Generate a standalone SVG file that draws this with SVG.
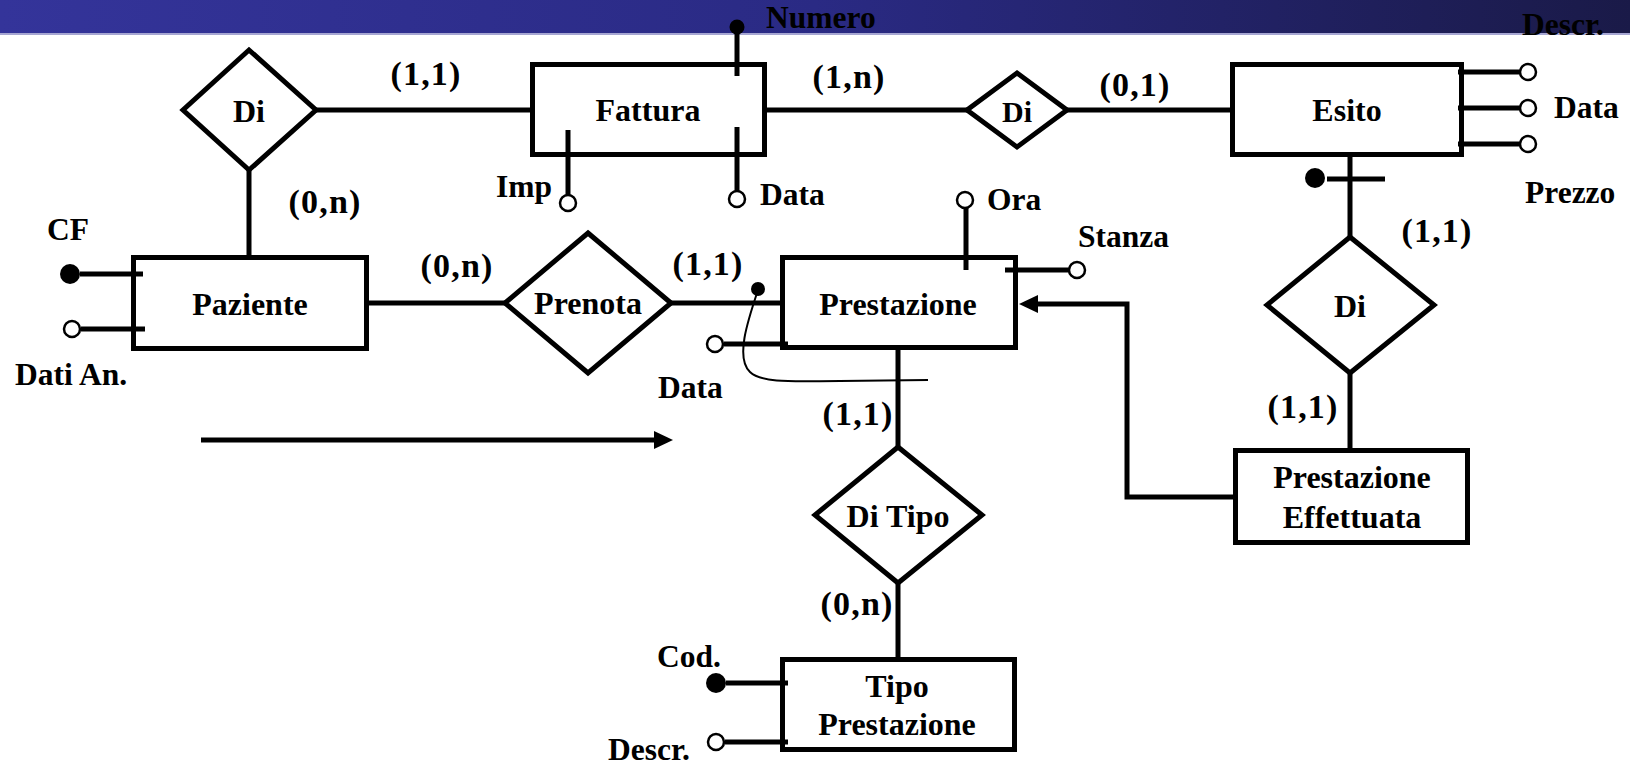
<svg xmlns="http://www.w3.org/2000/svg" width="1630" height="765" viewBox="0 0 1630 765">
<defs>
<linearGradient id="hdr" x1="0" y1="0" x2="1" y2="0">
<stop offset="0" stop-color="#34349a"/>
<stop offset="0.5" stop-color="#2a2a84"/>
<stop offset="1" stop-color="#1a1a48"/>
</linearGradient>
<style>
.box{fill:#fff;stroke:#000;stroke-width:5}
.rel{fill:#fff;stroke:#000;stroke-width:5;stroke-linejoin:miter}
.ln{fill:none;stroke:#000;stroke-width:5}
.thin{fill:none;stroke:#000;stroke-width:2}
.att{fill:#fff;stroke:#000;stroke-width:2.5}
.key{fill:#000}
.head{fill:#000}
text{font-family:"Liberation Serif","Times New Roman",serif;font-weight:bold;fill:#000}
.t{font-size:32px;text-anchor:middle}
.a{font-size:31.5px}
.ae{font-size:31.5px;text-anchor:end}
.c{font-size:34px;letter-spacing:1.2px;text-anchor:middle}
</style>
</defs>
<rect x="0" y="0" width="1630" height="33" fill="url(#hdr)"/>
<rect x="0" y="33" width="1630" height="2" fill="#a6a6d2"/>

<g id="connectors">
<line class="ln" x1="314" y1="110" x2="532" y2="110"/>
<line class="ln" x1="249" y1="168" x2="249" y2="257"/>
<line class="ln" x1="767" y1="110" x2="969" y2="110"/>
<line class="ln" x1="1065" y1="110" x2="1232" y2="110"/>
<line class="ln" x1="366" y1="303" x2="507" y2="303"/>
<line class="ln" x1="669" y1="303" x2="782" y2="303"/>
<line class="ln" x1="1350" y1="157" x2="1350" y2="239"/>
<line class="ln" x1="1350" y1="371" x2="1350" y2="450"/>
<line class="ln" x1="898" y1="350" x2="898" y2="449"/>
<line class="ln" x1="898" y1="581" x2="898" y2="659"/>
<polyline class="ln" points="1233,497 1127,497 1127,304 1037,304"/>
<polygon class="head" points="1019,304 1038,295 1038,313"/>
<line class="ln" x1="201" y1="440" x2="656" y2="440"/>
<polygon class="head" points="673,440 654,431 654,449"/>
<text class="c" x="426" y="85">(1,1)</text>
<text class="c" x="325" y="213">(0,n)</text>
<text class="c" x="849" y="88">(1,n)</text>
<text class="c" x="1135" y="96">(0,1)</text>
<text class="c" x="457" y="277">(0,n)</text>
<text class="c" x="708" y="275">(1,1)</text>
<text class="c" x="1437" y="242">(1,1)</text>
<text class="c" x="1303" y="418">(1,1)</text>
<text class="c" x="858" y="425">(1,1)</text>
<text class="c" x="857" y="615">(0,n)</text>
</g>

<g id="rel-di-paziente-fattura">
<polygon class="rel" points="249,50 316,110 249,170 183,110"/>
<text class="t" x="249" y="122">Di</text>
</g>

<g id="ent-fattura">
<rect class="box" x="532.5" y="64.5" width="232" height="90"/>
<text class="t" x="648" y="121">Fattura</text>
<line class="ln" x1="737" y1="30" x2="737" y2="76"/>
<circle class="key" cx="737" cy="27" r="7.5"/>
<text class="a" x="766" y="28">Numero</text>
<line class="ln" x1="568" y1="130" x2="568" y2="195"/>
<circle class="att" cx="568" cy="203" r="8"/>
<text class="ae" x="552" y="197">Imp</text>
<line class="ln" x1="737" y1="127" x2="737" y2="191"/>
<circle class="att" cx="737" cy="199" r="8"/>
<text class="a" x="760" y="205">Data</text>
</g>

<g id="rel-di-fattura-esito">
<polygon class="rel" points="1017,73 1067,110 1017,147 967,110"/>
<text class="t" x="1017" y="122" style="font-size:30px">Di</text>
</g>

<g id="ent-esito">
<rect class="box" x="1232.5" y="64.5" width="229" height="90"/>
<text class="t" x="1347" y="121">Esito</text>
<line class="ln" x1="1458" y1="72" x2="1520" y2="72"/>
<line class="ln" x1="1458" y1="108" x2="1520" y2="108"/>
<line class="ln" x1="1458" y1="144" x2="1520" y2="144"/>
<circle class="att" cx="1528" cy="72" r="8"/>
<circle class="att" cx="1528" cy="108" r="8"/>
<circle class="att" cx="1528" cy="144" r="8"/>
<text class="a" x="1522" y="35">Descr.</text>
<text class="a" x="1554" y="118">Data</text>
<text class="a" x="1525" y="203">Prezzo</text>
<line class="ln" x1="1327" y1="179" x2="1385" y2="179"/>
<circle class="key" cx="1315" cy="178" r="10"/>
</g>

<g id="ent-paziente">
<rect class="box" x="133.5" y="257.5" width="233" height="91"/>
<text class="t" x="250" y="315">Paziente</text>
<line class="ln" x1="80" y1="274" x2="143" y2="274"/>
<circle class="key" cx="70" cy="274" r="10"/>
<text class="a" x="47" y="240">CF</text>
<line class="ln" x1="81" y1="329" x2="145" y2="329"/>
<circle class="att" cx="72" cy="329" r="8"/>
<text class="a" x="15" y="385">Dati An.</text>
</g>

<g id="rel-prenota">
<polygon class="rel" points="588,233 671,303 588,373 505,303"/>
<text class="t" x="588" y="314">Prenota</text>
</g>

<g id="ent-prestazione">
<rect class="box" x="782.5" y="257.5" width="233" height="90"/>
<text class="t" x="898" y="315">Prestazione</text>
<line class="ln" x1="966" y1="208" x2="966" y2="270"/>
<circle class="att" cx="965" cy="200" r="8"/>
<text class="a" x="987" y="210">Ora</text>
<line class="ln" x1="1005" y1="270" x2="1069" y2="270"/>
<circle class="att" cx="1077" cy="270" r="8"/>
<text class="a" x="1078" y="247">Stanza</text>
<line class="ln" x1="724" y1="344" x2="788" y2="344"/>
<circle class="att" cx="715" cy="344" r="8"/>
<text class="a" x="658" y="398">Data</text>
<path class="thin" d="M758,290 C748,320 735,358 750,372 C762,384 800,381 840,381 L928,380"/>
<circle class="key" cx="758" cy="289" r="7"/>
</g>

<g id="rel-di-esito-prestazione-effettuata">
<polygon class="rel" points="1350,237 1434,305 1350,373 1267,305"/>
<text class="t" x="1350" y="317">Di</text>
</g>

<g id="ent-prestazione-effettuata">
<rect class="box" x="1235.5" y="450.5" width="232" height="92"/>
<text class="t" x="1352" y="488">Prestazione</text>
<text class="t" x="1352" y="528">Effettuata</text>
</g>

<g id="rel-di-tipo">
<polygon class="rel" points="898,447 982,515 898,583 815,515"/>
<text class="t" x="898" y="527">Di Tipo</text>
</g>

<g id="ent-tipo-prestazione">
<rect class="box" x="782.5" y="659.5" width="232" height="90"/>
<text class="t" x="897" y="697">Tipo</text>
<text class="t" x="897" y="735">Prestazione</text>
<line class="ln" x1="726" y1="683" x2="788" y2="683"/>
<circle class="key" cx="716" cy="683" r="10"/>
<text class="a" x="657" y="667">Cod.</text>
<line class="ln" x1="725" y1="742" x2="788" y2="742"/>
<circle class="att" cx="716" cy="742" r="8"/>
<text class="a" x="608" y="760">Descr.</text>
</g>
</svg>
